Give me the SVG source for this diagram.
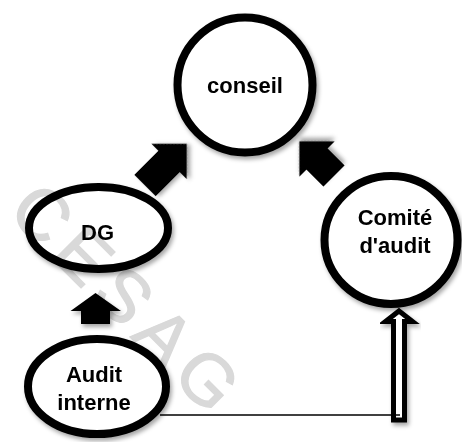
<svg xmlns="http://www.w3.org/2000/svg" width="462" height="442" viewBox="0 0 462 442">
  <style>
    .node { fill: #ffffff; stroke: #000000; stroke-width: 8; filter: url(#shadow); }
    .label { font-family: "Liberation Sans", Arial, sans-serif; font-weight: bold; font-size: 22px; fill: #000000; text-anchor: middle; }
    .block { fill: #000000; filter: url(#shadow); }
    .hollow { fill: #ffffff; stroke: #000000; stroke-width: 5; stroke-linejoin: miter; filter: url(#shadow); }
    .line { stroke: #000000; stroke-width: 1.6; fill: none; }
    .wm { font-family: "Liberation Sans", Arial, sans-serif; font-size: 72px; fill: #d9d9d9; stroke: #d9d9d9; stroke-width: 1.2; letter-spacing: 9px; mix-blend-mode: multiply; }
  </style>
  <defs>
    <filter id="shadow" x="-20%" y="-20%" width="150%" height="150%">
      <feDropShadow dx="2" dy="3" stdDeviation="2" flood-color="#000000" flood-opacity="0.35"/>
    </filter>
  </defs>
  <rect width="462" height="442" fill="#ffffff"/>

  <g id="connectors">
    <polygon class="block" points="0,-15 34,-15 34,-25 59,0 34,25 34,15 0,15" transform="translate(145 185.5) rotate(-45)"/>
    <polygon class="block" points="0,-15 24,-15 24,-25 49,0 24,25 24,15 0,15" transform="translate(334 176) rotate(-135)"/>
    <polygon class="block" points="81,324 81,311 70.5,311 95.5,293 121,311 110,311 110,324"/>
    <polygon class="hollow" points="399,311 412.5,321.5 404.5,321.5 404.5,420 393.5,420 393.5,321.5 385.5,321.5"/>
    <line class="line" x1="160" y1="415" x2="400" y2="415"/>
  </g>

  <g id="conseil">
    <circle class="node" cx="245" cy="85" r="67.5"/>
    <text class="label" x="245" y="93">conseil</text>
  </g>

  <g id="dg">
    <ellipse class="node" cx="98.5" cy="228" rx="69.5" ry="41"/>
    <text class="label" x="97.5" y="240">DG</text>
  </g>

  <g id="comite">
    <ellipse class="node" cx="391" cy="240" rx="66.5" ry="64"/>
    <text class="label" x="395" y="225">Comité</text>
    <text class="label" x="395" y="253">d'audit</text>
  </g>

  <g id="audit-interne">
    <ellipse class="node" cx="97" cy="386.5" rx="69" ry="47.5"/>
    <text class="label" x="94" y="382">Audit</text>
    <text class="label" x="94" y="410">interne</text>
  </g>

  <text class="wm" x="6" y="213" transform="rotate(45 6 213)">CESAG</text>
</svg>
